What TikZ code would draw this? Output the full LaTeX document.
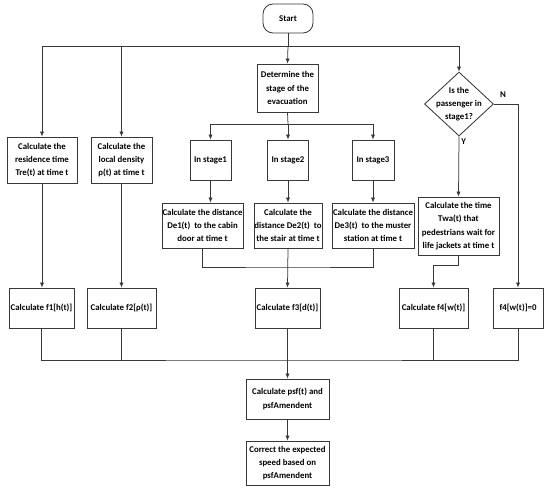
\documentclass[tikz,border=0pt]{standalone}
\usepackage{fontspec}
\setmainfont{Carlito}
\usetikzlibrary{shapes.geometric,arrows.meta}
\definecolor{ln}{HTML}{383838}
\begin{document}
\begin{tikzpicture}[x=1pt,y=-1pt,
  txt/.style={align=center,font=\bfseries\fontsize{8.8}{13.3}\selectfont,text=black,inner sep=0pt},
  bx/.style={txt,draw=ln,line width=0.85pt,rectangle},
  ln/.style={draw=ln,line width=0.75pt},
  arr/.style={ln,-{Latex[length=5pt,width=4.2pt]}}]
\useasboundingbox (0,0) rectangle (550,491);
% nodes
\node[bx,rounded corners=10pt,minimum width=50,minimum height=29] (start) at (288,18.5) {Start};
\node[bx,minimum width=61,minimum height=48] (det) at (287.5,88) {Determine the\\stage of the\\evacuation};
\node[draw=ln,line width=0.85pt,diamond,minimum width=69,minimum height=64,inner sep=0pt] (dia) at (459,104) {};
\node[txt] (diat) at (dia) {Is the\\passenger in\\stage1?};
\node[bx,minimum width=70,minimum height=46] (res) at (42,160) {Calculate the\\residence time\\Tre(t) at time t};
\node[bx,minimum width=61,minimum height=46] (dens) at (121.5,160) {Calculate the\\local density\\ρ(t) at time t};
\node[bx,minimum width=41,minimum height=40] (s1) at (210.5,160) {In stage1};
\node[bx,minimum width=41,minimum height=40] (s2) at (288,160) {In stage2};
\node[bx,minimum width=42,minimum height=40] (s3) at (373,160) {In stage3};
\node[bx,minimum width=81,minimum height=45] (d1) at (202.5,225.5) {Calculate the distance\\De1(t)\ \ to the cabin\\door at time t};
\node[bx,minimum width=68,minimum height=45] (d2) at (288,225.5) {Calculate the\\distance De2(t)\ \ to\\the stair at time t};
\node[bx,minimum width=82,minimum height=45] (d3) at (373,225.5) {Calculate the distance\\De3(t)\ \ to the muster\\station at time t};
\node[bx,minimum width=81,minimum height=58] (twa) at (458.5,226) {Calculate the time\\Twa(t) that\\pedestrians wait for\\life jackets at time t};
\node[bx,minimum width=65,minimum height=40] (f1) at (41.5,308) {Calculate f1[h(t)]};
\node[bx,minimum width=69,minimum height=40] (f2) at (121.5,308) {Calculate f2[ρ(t)]};
\node[bx,minimum width=65,minimum height=40] (f3) at (287.5,308) {Calculate f3[d(t)]};
\node[bx,minimum width=69,minimum height=40] (f4) at (433.5,308) {Calculate f4[w(t)]};
\node[bx,minimum width=50,minimum height=40] (f40) at (518,308) {f4[w(t)]=0};
\node[bx,minimum width=83,minimum height=40] (psf) at (287.5,399) {Calculate psf(t) and\\psfAmendent};
\node[bx,minimum width=83,minimum height=44] (cor) at (287.5,463) {Correct the expected\\speed based on\\psfAmendent};
% top bus
\coordinate (bL) at (42,46);
\coordinate (bR) at (459,46);
\draw[ln] (start.south) -- (288,46);
\draw[ln] (bL) -- (bR);
\draw[arr] (bL) -- (res.north);
\draw[arr] (bL -| dens.north) -- (dens.north);
\draw[arr] (288,46) -- (det.north);
\draw[arr] (bR) -- (dia.north);
% stage bus
\coordinate (bS) at (288,124);
\draw[ln] (det.south) -- (bS);
\draw[ln] (bS -| s1.north) -- (bS -| s3.north);
\draw[arr] (bS -| s1.north) -- (s1.north);
\draw[arr] (bS) -- (s2.north);
\draw[arr] (bS -| s3.north) -- (s3.north);
\draw[arr] (s1.south) -- (s1.south |- d1.north);
\draw[arr] (s2.south) -- (d2.north);
\draw[arr] (s3.south) -- (d3.north);
% distance bus
\coordinate (bD) at (288,267);
\draw[ln] (d1.south) |- (bD) -| (d3.south);
\draw[arr] (d2.south) -- (f3.north);
% decision
\draw[arr] (dia.south) -- (twa.north) node[pos=0.09,right=2pt,txt] (ylab) {Y};
\draw[arr] (dia.east) -| (f40.north);
\node[txt] (nlab) at (503,95) {N};
\draw[arr] (twa.south) -- ++(0,10) -| (f4.north);
% left columns
\draw[arr] (res.south) -- (res.south |- f1.north);
\draw[arr] (dens.south) -- (f2.north);
% bottom bus
\coordinate (bB) at (288,360);
\draw[ln] (f1.south) |- (bB) -| (f40.south);
\draw[ln] (f2.south) -- (f2.south |- bB);
\draw[ln] (f4.south) -- (f4.south |- bB);
\draw[arr] (f3.south) -- (psf.north);
\draw[arr] (psf.south) -- (cor.north);
\end{tikzpicture}
\end{document}
